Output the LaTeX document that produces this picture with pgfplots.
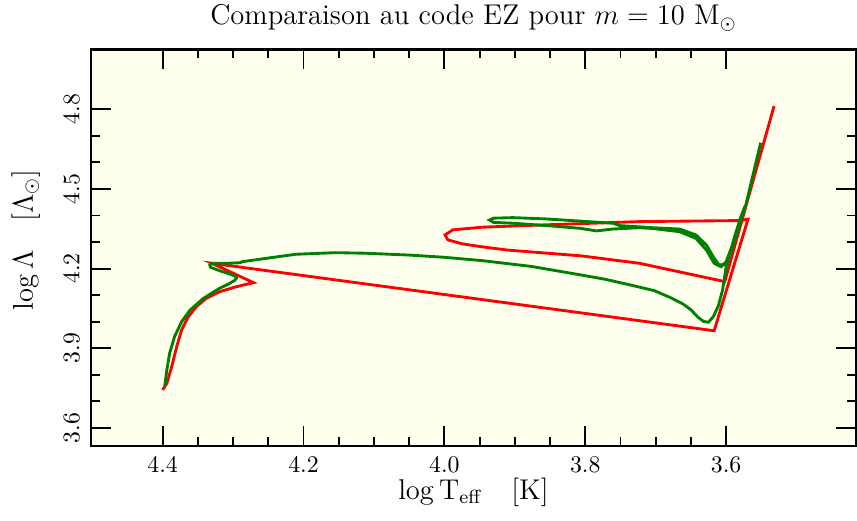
\documentclass[border=0pt]{standalone}
\usepackage{pgfplots}
\pgfplotsset{compat=1.18}

\definecolor{bgivory}{RGB}{255,255,238}
\definecolor{ezgreen}{RGB}{0,128,0}

\begin{document}
\begin{tikzpicture}
\begin{axis}[
    scale only axis,
    width=321.3pt, height=166.6pt,
    x dir=reverse,
    xmin=3.4156, xmax=4.5017,
    ymin=3.532, ymax=5.026,
    xtick={3.6,3.8,4.0,4.2,4.4},
    ytick={3.6,3.9,4.2,4.5,4.8},
    minor x tick num=3,
    minor y tick num=2,
    xticklabel style={/pgf/number format/fixed, /pgf/number format/fixed zerofill, /pgf/number format/precision=1},
    yticklabel style={/pgf/number format/fixed, /pgf/number format/fixed zerofill, /pgf/number format/precision=1, rotate=90, anchor=south},
    xticklabel shift=1pt,
    yticklabel shift=1.3pt,
    tick align=inside,
    major tick length=8.4pt,
    minor tick length=3.8pt,
    every tick/.style={black, line width=0.8pt},
    axis line style={line width=1.2pt},
    axis background/.style={fill=bgivory},
    every axis title shift=0pt,
    title={Comparaison au code EZ pour $m = 10\ \mathrm{M}_\odot$},
    title style={font=\large, at={(axis description cs:0.5,1.0618)}, anchor=base},
    xlabel={$\log \mathrm{T}_{\mathrm{eff}}\quad[\mathrm{K}]$},
    ylabel={$\log \Lambda\quad[\Lambda_\odot]$},
    xlabel style={font=\large, at={(axis description cs:0.5,-0.134)}, anchor=base},
    ylabel style={font=\large, at={(axis description cs:-0.0759,0.52)}, anchor=base},
]
% EZ code track (red)
\addplot[color=red, line width=1.2pt] coordinates {
(4.400,3.743)(4.394,3.768)(4.387,3.831)(4.380,3.906)(4.373,3.969)(4.364,4.017)
(4.352,4.057)(4.338,4.088)(4.319,4.113)(4.295,4.132)(4.271,4.147)(4.330,4.220)
(3.617,3.966)(3.569,4.386)(3.580,4.381)(3.723,4.377)(3.876,4.363)
(3.946,4.356)(3.988,4.346)(3.999,4.327)(3.995,4.308)(3.974,4.293)(3.949,4.283)
(3.911,4.270)(3.806,4.248)(3.723,4.220)(3.602,4.151)(3.532,4.812)
};
% comparison track (green)
\addplot[color=ezgreen, line width=1.2pt] coordinates {
(4.397,3.756)(4.394,3.818)(4.390,3.881)(4.383,3.944)(4.373,4.000)(4.361,4.044)
(4.342,4.088)(4.319,4.126)(4.307,4.141)(4.298,4.155)(4.295,4.164)(4.297,4.172)
(4.305,4.180)(4.319,4.192)(4.332,4.205)(4.333,4.214)(4.330,4.220)(4.309,4.220)
(4.290,4.222)(4.287,4.226)(4.252,4.239)(4.211,4.254)(4.155,4.260)(4.113,4.258)
(4.050,4.251)(4.002,4.243)(3.946,4.230)(3.876,4.208)(3.806,4.176)(3.772,4.160)
(3.737,4.139)(3.702,4.117)(3.680,4.092)(3.662,4.068)(3.650,4.045)(3.640,4.017)
(3.632,4.001)(3.625,3.998)(3.618,4.020)(3.611,4.060)(3.605,4.120)(3.600,4.207)
(3.588,4.320)(3.579,4.396)(3.573,4.436)(3.584,4.339)(3.593,4.264)(3.602,4.216)
(3.610,4.214)(3.617,4.239)(3.628,4.289)(3.643,4.327)(3.666,4.349)(3.704,4.354)
(3.751,4.362)(3.761,4.371)(3.808,4.379)(3.855,4.387)(3.903,4.392)(3.930,4.390)
(3.936,4.383)(3.930,4.374)(3.903,4.371)(3.855,4.362)(3.808,4.352)(3.784,4.342)
(3.761,4.349)(3.723,4.354)(3.704,4.351)(3.666,4.339)(3.643,4.314)(3.628,4.270)
(3.617,4.220)(3.607,4.207)(3.600,4.226)(3.591,4.289)(3.581,4.377)(3.572,4.440)
(3.551,4.674)
};
\end{axis}
\pgfresetboundingbox
\path[use as bounding box] (-38.2pt,-31.1pt) rectangle (321.7pt,187.3pt);
\end{tikzpicture}
\end{document}
